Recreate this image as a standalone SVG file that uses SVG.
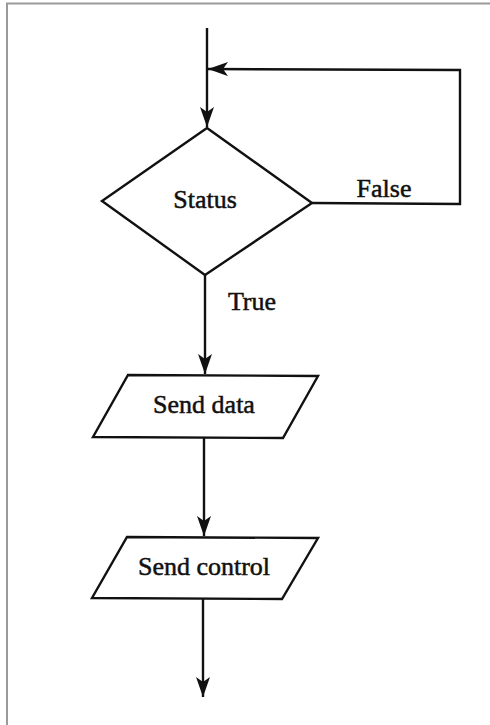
<svg xmlns="http://www.w3.org/2000/svg" width="490" height="725" viewBox="0 0 490 725">
<defs>
<marker id="arr" markerWidth="20" markerHeight="14" refX="20" refY="7" orient="auto" markerUnits="userSpaceOnUse">
<path d="M0,0 L20,7 L0,14 L5,7 Z" fill="#111"/>
</marker>
<style>
.shape{fill:none;stroke:#111;stroke-width:2.4;stroke-linejoin:miter}
.conn{fill:none;stroke:#111;stroke-width:2.4}
.lbl{font-family:"Liberation Serif","Times New Roman",serif;font-size:26px;fill:#111;stroke:#111;stroke-width:0.5}
</style>
</defs>
<rect width="490" height="725" fill="#fff"/>
<path d="M7,730 L7,3.5 L495,3.5" fill="none" stroke="#9a9a9a" stroke-width="2"/>
<g id="connectors">
<path class="conn" d="M207,28 L207,127" marker-end="url(#arr)"/>
<path class="conn" d="M312,203 L460,204 L460,70 L208,69" marker-end="url(#arr)"/>
<path class="conn" d="M205,275 L205,374" marker-end="url(#arr)"/>
<path class="conn" d="M204,438 L204,536" marker-end="url(#arr)"/>
<path class="conn" d="M203,599 L203,697" marker-end="url(#arr)"/>
<text class="lbl" x="384" y="197" text-anchor="middle">False</text>
<text class="lbl" x="252" y="310" text-anchor="middle">True</text>
</g>
<g id="status">
<polygon class="shape" points="207,128 312,203 205,275 102,201"/>
<text class="lbl" x="205" y="208" text-anchor="middle">Status</text>
</g>
<g id="send-data">
<polygon class="shape" points="128,375 318,376 283,438 93,437"/>
<text class="lbl" x="204" y="413" text-anchor="middle">Send data</text>
</g>
<g id="send-control">
<polygon class="shape" points="127,537 318,538 282,599 92,598"/>
<text class="lbl" x="204" y="575" text-anchor="middle">Send control</text>
</g>
</svg>
